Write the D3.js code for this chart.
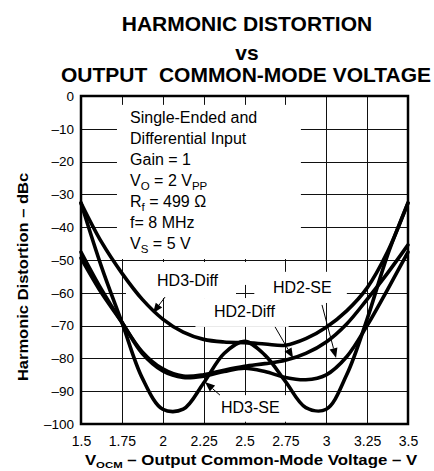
<!DOCTYPE html>
<html>
<head>
<meta charset="utf-8">
<script src="https://cdn.jsdelivr.net/npm/d3@7"></script>
<style>
  html, body { margin: 0; padding: 0; background: #fff; }
  svg { display: block; font-family: "Liberation Sans", Arial, sans-serif; }
</style>
</head>
<body>
<svg id="chart" width="434" height="471"></svg>
<script>
// Output common-mode voltage (V), sample points shared by all curves
const voltages = [1.5, 1.625, 1.75, 1.875, 2.0, 2.125, 2.25, 2.375, 2.5,
                  2.625, 2.75, 2.875, 3.0, 3.125, 3.25, 3.375, 3.5];

// Harmonic distortion (dBc) for each configuration
const hd3Diff = [-32.6, -44.5, -54, -62, -68, -72, -74.2, -75, -75.2,
                 -75.6, -76, -74, -70.5, -65.5, -58.5, -47.5, -32.6];
const hd3SE   = [-32.6, -52, -69, -86, -95.5, -95.5, -87.5, -78.5, -74.8,
                 -79, -87, -95, -95.5, -85, -68, -48.5, -32.6];
const hd2Diff = [-47.6, -59, -69, -78, -83.2, -85.4, -85, -83.6, -82.4,
                 -81.6, -80.6, -78.5, -75, -69.5, -62, -54, -45.4];
const hd2SE   = [-49.4, -60, -69, -78.5, -83.8, -85.8, -85.4, -84, -83,
                 -84, -85.8, -86.5, -85, -79.5, -70, -59, -47.6];

const seriesNames = ["HD3-Diff", "HD3-SE", "HD2-Diff", "HD2-SE"];
const seriesValues = [hd3Diff, hd3SE, hd2Diff, hd2SE];

// Axis ticks
const xTicks = [1.5, 1.75, 2, 2.25, 2.5, 2.75, 3, 3.25, 3.5];
const xTickLabels = ["1.5", "1.75", "2", "2.25", "2.5", "2.75", "3", "3.25", "3.5"];
const yTicks = [0, -10, -20, -30, -40, -50, -60, -70, -80, -90, -100];
const yTickLabels = ["0", "–10", "–20", "–30", "–40", "–50", "–60", "–70", "–80", "–90", "–100"];

// Curve labels: text anchor point and arrow (from, tip), in data units
const labelNames = ["HD3-Diff", "HD2-Diff", "HD2-SE", "HD3-SE"];
const labelAt    = [[1.965, -57.9], [2.313, -67.4], [2.674, -60.1], [2.356, -96.6]];
const arrowFrom  = [[2.014, -61.3], [2.687, -70.4], [2.974, -63.7], [2.35, -91.2]];
const arrowTip   = [[1.94, -66.2], [2.797, -79.9], [3.06, -79.9], [2.258, -87.2]];

// White boxes behind the text blocks (v0, d0, v1, d1)
const textBoxes = [
  [1.72, -2.7, 2.845, -49.7],
  [1.775, -50.6, 2.448, -61.6],
  [2.43, -50.6, 2.515, -57.6],
  [2.56, -53.6, 3.126, -63.1],
  [2.2, -61.6, 2.77, -70.4],
  [2.27, -91.2, 2.79, -99.3]
];

// Test conditions block
const conditions = [
  [{t: "Single-Ended and"}],
  [{t: "Differential Input"}],
  [{t: "Gain = 1"}],
  [{t: "V"}, {t: "O", sub: true}, {t: " = 2 V"}, {t: "PP", sub: true}],
  [{t: "R"}, {t: "f", sub: true}, {t: " = 499 Ω"}],
  [{t: "f= 8 MHz"}],
  [{t: "V"}, {t: "S", sub: true}, {t: " = 5 V"}]
];
const conditionsAt = [1.80, -8.3];

const svg = d3.select("#chart");
const plotL = 81, plotR = 408, plotT = 96, plotB = 424;

const x = d3.scaleLinear().domain([1.5, 3.5]).range([plotL, plotR]);
const y = d3.scaleLinear().domain([0, -100]).range([plotT, plotB]);

// Title
const title = svg.append("g")
  .attr("font-weight", "bold")
  .attr("font-size", 21)
  .attr("text-anchor", "middle")
  .attr("fill", "#000");
title.append("text").attr("x", 247).attr("y", 31).text("HARMONIC DISTORTION");
title.append("text").attr("x", 247).attr("y", 60).text("vs");
title.append("text").attr("x", 246).attr("y", 82)
  .attr("xml:space", "preserve").style("white-space", "pre")
  .text("OUTPUT  COMMON-MODE VOLTAGE");

// Grid lines
const grid = svg.append("g").attr("stroke", "#111").attr("stroke-width", 1);
grid.selectAll("line.v").data(xTicks.slice(1, -1)).join("line")
  .attr("class", "v")
  .attr("x1", d => Math.round(x(d)) + 0.5).attr("x2", d => Math.round(x(d)) + 0.5)
  .attr("y1", plotT).attr("y2", plotB);
grid.selectAll("line.h").data(yTicks.slice(1, -1)).join("line")
  .attr("class", "h")
  .attr("y1", d => Math.round(y(d)) + 0.5).attr("y2", d => Math.round(y(d)) + 0.5)
  .attr("x1", plotL).attr("x2", plotR);

// White boxes that clear the grid under the text
svg.append("g").selectAll("rect").data(textBoxes).join("rect")
  .attr("x", d => x(d[0])).attr("y", d => y(d[1]))
  .attr("width", d => x(d[2]) - x(d[0]))
  .attr("height", d => y(d[3]) - y(d[1]))
  .attr("fill", "#fff");

// Plot frame
svg.append("rect")
  .attr("x", plotL).attr("y", plotT)
  .attr("width", plotR - plotL).attr("height", plotB - plotT)
  .attr("fill", "none").attr("stroke", "#000").attr("stroke-width", 2.5);

// Tick labels via d3 axes
const yAxis = svg.append("g")
  .attr("transform", `translate(${plotL},0)`)
  .call(d3.axisLeft(y).tickValues(yTicks).tickSize(0).tickPadding(7)
    .tickFormat((d, i) => yTickLabels[i]));
yAxis.select(".domain").remove();
yAxis.selectAll("text").attr("font-size", 13.5).attr("font-family", "Liberation Sans, Arial, sans-serif").attr("fill", "#000");

const xAxis = svg.append("g")
  .attr("transform", `translate(0,${plotB})`)
  .call(d3.axisBottom(x).tickValues(xTicks).tickSize(0).tickPadding(12)
    .tickFormat((d, i) => xTickLabels[i]));
xAxis.select(".domain").remove();
xAxis.selectAll("text").attr("font-size", 14).attr("font-family", "Liberation Sans, Arial, sans-serif").attr("fill", "#000");

// Axis titles (wide bold lettering)
const xTitle = svg.append("text")
  .attr("transform", "translate(251,465) scale(1.2,1)")
  .attr("text-anchor", "middle")
  .attr("font-weight", "bold").attr("font-size", 14);
xTitle.append("tspan").text("V");
xTitle.append("tspan").attr("font-size", 9.5).attr("dy", 3).text("OCM");
xTitle.append("tspan").attr("dy", -3).text(" – Output Common-Mode Voltage – V");

svg.append("text")
  .attr("transform", "translate(28,277) rotate(-90) scale(1.18,1)")
  .attr("text-anchor", "middle")
  .attr("font-weight", "bold").attr("font-size", 14)
  .text("Harmonic Distortion – dBc");

// Test conditions
const cond = svg.append("text")
  .attr("font-size", 16).attr("fill", "#000");
conditions.forEach((row, i) => {
  const ln = cond.append("tspan")
    .attr("x", x(conditionsAt[0]))
    .attr("y", y(conditionsAt[1]) + i * 21);
  let shifted = false;
  row.forEach(part => {
    const dy = part.sub ? (shifted ? 0 : 4) : (shifted ? -4 : 0);
    shifted = !!part.sub;
    ln.append("tspan")
      .attr("font-size", part.sub ? 11.5 : 16)
      .attr("dy", dy)
      .text(part.t);
  });
});

// Curves
const line = d3.line()
  .x((d, i) => x(voltages[i]))
  .y(d => y(d))
  .curve(d3.curveCatmullRom.alpha(0.5));

svg.append("g").selectAll("path").data(seriesValues).join("path")
  .attr("d", d => line(d))
  .attr("fill", "none")
  .attr("stroke", "#000")
  .attr("stroke-width", 3.6)
  .attr("stroke-linejoin", "round")
  .attr("stroke-linecap", "round");

// Curve labels and arrows
const ann = svg.append("g");
labelNames.forEach((name, i) => {
  ann.append("text")
    .attr("x", x(labelAt[i][0])).attr("y", y(labelAt[i][1]))
    .attr("font-size", 16).attr("fill", "#000")
    .text(name);
  const x0 = x(arrowFrom[i][0]), y0 = y(arrowFrom[i][1]);
  const x1 = x(arrowTip[i][0]), y1 = y(arrowTip[i][1]);
  const len = Math.hypot(x1 - x0, y1 - y0);
  const ux = (x1 - x0) / len, uy = (y1 - y0) / len;
  const headL = 10, headW = 4;
  const bx = x1 - ux * headL, by = y1 - uy * headL;
  ann.append("line")
    .attr("x1", x0).attr("y1", y0).attr("x2", bx).attr("y2", by)
    .attr("stroke", "#000").attr("stroke-width", 1);
  ann.append("path")
    .attr("d", `M${x1},${y1}L${bx - uy * headW},${by + ux * headW}L${bx + uy * headW},${by - ux * headW}Z`)
    .attr("fill", "#000");
});
</script>
</body>
</html>
